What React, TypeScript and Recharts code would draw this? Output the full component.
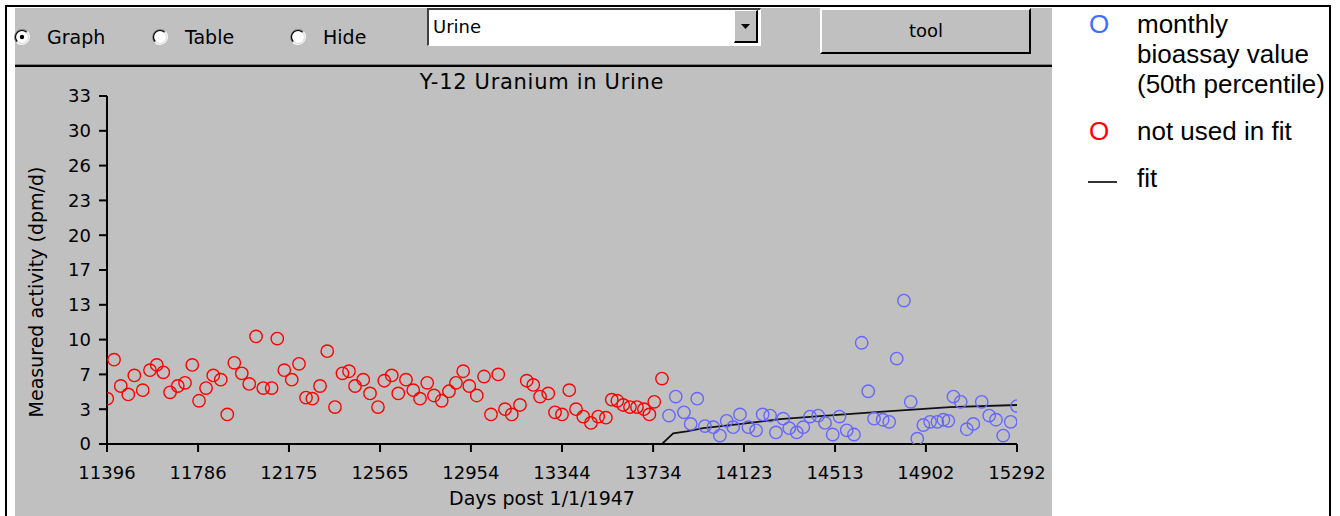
import { ComposedChart, Scatter, Line, XAxis, YAxis } from "recharts";

const RED = "#ff0000";
const BLUE = "#6666ff";
const PANEL = "#c0c0c0";
const FONT = "'DejaVu Sans', sans-serif";
const LEGEND_FONT = "'Liberation Sans', Arial, sans-serif";

const xTicks = [11396, 11786, 12175, 12565, 12954, 13344, 13734, 14123, 14513, 14902, 15292];
const yTicks = [0, 3.3, 6.6, 9.9, 13.2, 16.5, 19.8, 23.1, 26.4, 29.7, 33];

// red: not used in fit
const redDays = [
  11397, 11426, 11455, 11487, 11513, 11549, 11580, 11609, 11637, 11666,
  11699, 11730, 11761, 11790, 11820, 11851, 11883, 11911, 11941, 11973,
  12005, 12034, 12065, 12101, 12125, 12155, 12187, 12218, 12248, 12275,
  12308, 12339, 12372, 12404, 12432, 12458, 12493, 12522, 12556, 12583,
  12615, 12643, 12676, 12707, 12736, 12767, 12796, 12829, 12860, 12890,
  12921, 12947, 12979, 13010, 13040, 13071, 13100, 13129, 13164, 13193,
  13221, 13250, 13285, 13314, 13344, 13375, 13404, 13435, 13468, 13499,
  13532, 13557, 13581, 13606, 13635, 13665, 13695, 13718, 13739, 13772,
];
const redValues = [
  4.3, 8.0, 5.5, 4.7, 6.5, 5.1, 7.0, 7.5, 6.8, 4.9,
  5.5, 5.8, 7.5, 4.1, 5.3, 6.5, 6.1, 2.8, 7.7, 6.7,
  5.7, 10.2, 5.3, 5.3, 10.0, 7.0, 6.1, 7.6, 4.4, 4.3,
  5.5, 8.8, 3.5, 6.7, 6.9, 5.5, 6.1, 4.8, 3.5, 6.0,
  6.5, 4.8, 6.1, 5.1, 4.3, 5.8, 4.6, 4.1, 5.0, 5.8,
  6.9, 5.5, 4.6, 6.4, 2.8, 6.6, 3.3, 2.8, 3.7, 6.0,
  5.6, 4.5, 4.8, 3.0, 2.8, 5.1, 3.3, 2.6, 2.0, 2.6,
  2.5, 4.2, 4.1, 3.7, 3.5, 3.5, 3.3, 2.8, 4.0, 6.2,
];

// blue: monthly bioassay value (50th percentile)
const blueDays = [
  13802, 13831, 13866, 13895, 13923, 13956, 13992, 14020, 14049, 14077,
  14106, 14142, 14175, 14203, 14235, 14260, 14291, 14317, 14349, 14377,
  14406, 14441, 14470, 14503, 14532, 14563, 14594, 14627, 14655, 14680,
  14717, 14745, 14777, 14808, 14837, 14865, 14891, 14920, 14951, 14977,
  14998, 15020, 15051, 15077, 15105, 15141, 15173, 15202, 15233, 15265, 15292,
];
const blueValues = [
  2.7, 4.5, 3.0, 1.9, 4.3, 1.7, 1.6, 0.8, 2.2, 1.6,
  2.8, 1.6, 1.3, 2.8, 2.7, 1.1, 2.4, 1.5, 1.1, 1.6,
  2.6, 2.7, 2.0, 0.9, 2.6, 1.3, 0.9, 9.6, 5.0, 2.4,
  2.3, 2.1, 8.1, 13.6, 4.0, 0.5, 1.8, 2.1, 2.1, 2.3,
  2.2, 4.5, 4.0, 1.4, 1.9, 4.0, 2.7, 2.3, 0.8, 2.1, 3.6,
];

const fitDays = [13772, 13820, 13878, 13949, 14113, 14277, 14477, 14734, 15005, 15292];
const fitValues = [0, 1.0, 1.2, 1.5, 1.9, 2.35, 2.7, 3.1, 3.5, 3.7];

const red = redDays.map((day, i) => ({ day, v: redValues[i] }));
const blue = blueDays.map((day, i) => ({ day, v: blueValues[i] }));
const fit = fitDays.map((day, i) => ({ day, v: fitValues[i] }));

const ring = (color: string) => (p: any) =>
  <circle cx={p.cx} cy={p.cy} r={6.2} fill="none" stroke={color} strokeWidth={1.4} />;

function Radio({ x, y, checked }: { x: number; y: number; checked?: boolean }) {
  return (
    <svg style={{ position: "absolute", left: x - 8, top: y - 8 }} width={16} height={16}>
      <circle cx={8} cy={8} r={6.5} fill="#fff" />
      <path d="M2.7 13.3 A7.5 7.5 0 0 1 13.3 2.7" stroke="#808080" strokeWidth={1.2} fill="none" />
      <path d="M13.3 2.7 A7.5 7.5 0 0 1 2.7 13.3" stroke="#fff" strokeWidth={1.2} fill="none" />
      <path d="M3.4 12.6 A6.5 6.5 0 0 1 12.6 3.4" stroke="#000" strokeWidth={1.2} fill="none" />
      <path d="M12.6 3.4 A6.5 6.5 0 0 1 3.4 12.6" stroke="#dfdfdf" strokeWidth={1.2} fill="none" />
      {checked ? <circle cx={8} cy={8} r={2.2} fill="#000" /> : null}
    </svg>
  );
}

export default function App() {
  return (
    <div style={{ position: "absolute", left: 0, top: 0, width: 1340, height: 516, overflow: "hidden", background: "#fff" }}>
      {/* outer frame */}
      <div style={{ position: "absolute", left: 5, top: 5, width: 1326, height: 530, border: "2px solid #000", boxSizing: "border-box" }} />
      {/* gray panel */}
      <div style={{ position: "absolute", left: 15, top: 8, width: 1037, height: 520, background: PANEL }} />

      {/* toolbar */}
      <Radio x={22} y={37} checked />
      <Radio x={160} y={37} />
      <Radio x={298} y={37} />
      <div
        style={{
          position: "absolute", left: 427, top: 8, width: 334, height: 38, background: "#fff", boxSizing: "border-box",
          borderTop: "2px solid #404040", borderLeft: "2px solid #404040", borderRight: "1px solid #fff", borderBottom: "1px solid #fff",
        }}
      />
      <div
        style={{
          position: "absolute", left: 734, top: 10, width: 24, height: 33, background: PANEL, boxSizing: "border-box",
          borderTop: "1px solid #fff", borderLeft: "1px solid #fff", borderRight: "2px solid #000", borderBottom: "2px solid #000",
        }}
      />
      <div
        style={{
          position: "absolute", left: 820, top: 8, width: 211, height: 46, background: PANEL, boxSizing: "border-box",
          borderTop: "2px solid #fff", borderLeft: "2px solid #fff", borderRight: "2px solid #000", borderBottom: "2px solid #000",
        }}
      />
      <div style={{ position: "absolute", left: 15, top: 64, width: 1037, height: 1, background: "#808080" }} />
      <div style={{ position: "absolute", left: 15, top: 65, width: 1037, height: 2, background: "#000" }} />

      {/* fit legend mark */}
      <div style={{ position: "absolute", left: 1088, top: 181, width: 29, height: 2, background: "#333" }} />

      {/* chart */}
      <div style={{ position: "absolute", left: 15, top: 68 }}>
        <ComposedChart width={1037} height={448} margin={{ top: 28, right: 35, bottom: 0, left: 0 }}>
          <XAxis
            type="number"
            dataKey="day"
            domain={[11396, 15292]}
            ticks={xTicks}
            interval={0}
            height={72}
            tickSize={8}
            tickMargin={14}
            axisLine={{ stroke: "#000", strokeWidth: 2 }}
            tickLine={{ stroke: "#000", strokeWidth: 2 }}
            tick={{ fill: "#000", fontSize: 18, fontFamily: FONT }}
            allowDataOverflow
          />
          <YAxis
            type="number"
            dataKey="v"
            domain={[0, 33]}
            ticks={yTicks}
            interval={0}
            width={92}
            tickSize={8}
            tickMargin={8}
            tickFormatter={(t: number) => String(Math.round(t))}
            axisLine={{ stroke: "#000", strokeWidth: 2 }}
            tickLine={{ stroke: "#000", strokeWidth: 2 }}
            tick={{ fill: "#000", fontSize: 18, fontFamily: FONT }}
            allowDataOverflow
          />
          <Scatter data={red} dataKey="v" shape={ring(RED)} isAnimationActive={false} />
          <Scatter data={blue} dataKey="v" shape={ring(BLUE)} isAnimationActive={false} />
          <Line data={fit} dataKey="v" type="linear" stroke="#111" strokeWidth={1.8} dot={false} isAnimationActive={false} />
        </ComposedChart>
      </div>

      {/* texts */}
      <svg style={{ position: "absolute", left: 0, top: 0, pointerEvents: "none" }} width={1340} height={516}>
        <g fontFamily={FONT} fill="#000">
          <text x={47} y={44} fontSize={19}>Graph</text>
          <text x={185} y={44} fontSize={19}>Table</text>
          <text x={323} y={44} fontSize={19}>Hide</text>
          <text x={433} y={33} fontSize={18}>Urine</text>
          <path d="M741 24 L750 24 L745.5 29 Z" fill="#000" />
          <text x={926} y={37} fontSize={18} textAnchor="middle">tool</text>
          <text x={542} y={89} fontSize={21} letterSpacing={0.7} textAnchor="middle">Y-12 Uranium in Urine</text>
          <text x={542} y={505} fontSize={19} textAnchor="middle">Days post 1/1/1947</text>
          <text x={43} y={292} fontSize={19} textAnchor="middle" transform="rotate(-90 43 292)">
            Measured activity (dpm/d)
          </text>
        </g>
        <g fontFamily={LEGEND_FONT} fontSize={26} fill="#000">
          <text x={1089} y={33} fill="#3d6cff">O</text>
          <text x={1137} y={33}>monthly</text>
          <text x={1137} y={63}>bioassay value</text>
          <text x={1137} y={93}>(50th percentile)</text>
          <text x={1089} y={140} fill={RED}>O</text>
          <text x={1137} y={140}>not used in fit</text>
          <text x={1137} y={187}>fit</text>
        </g>
      </svg>
    </div>
  );
}
